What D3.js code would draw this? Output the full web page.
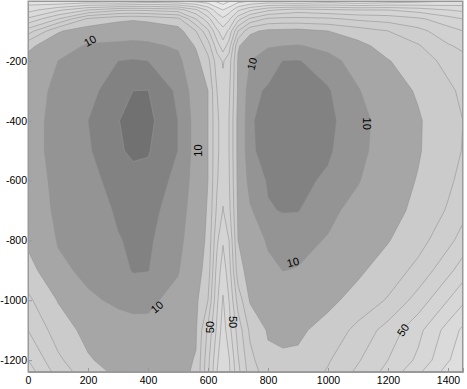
<!DOCTYPE html>
<html>
<head>
<meta charset="utf-8">
<script src="https://cdn.jsdelivr.net/npm/d3@7"></script>
<style>
  body { margin: 0; background: #fff; }
  svg { display: block; }
  text { font-family: "Liberation Sans", Arial, sans-serif; }
</style>
</head>
<body>
<svg id="chart" width="467" height="389"></svg>
<script>
// grid positions (data units) of the sampled field
const xs = [0, 100, 200, 300, 350, 400, 500, 560, 600, 630, 650, 670, 700, 740, 800, 850, 900, 1000, 1100, 1200, 1300, 1400, 1450];
const ys = [0, -30, -60, -100, -150, -200, -300, -400, -500, -600, -700, -800, -900, -1000, -1100, -1200, -1240];

// field values, one row per ys entry
const values = [
  [95, 100, 98, 102, 100, 97, 100, 103, 106, 112, 116, 111, 104, 100, 98, 100, 103, 97, 101, 97, 94, 90, 88],
  [84, 72, 60, 52, 51, 52, 55, 68, 82, 95, 100, 95, 82, 72, 62, 58, 55, 58, 60, 60, 64, 70, 72],
  [68, 50, 28, 22, 21, 22, 27, 50, 66, 82, 88, 82, 64, 48, 38, 37, 37, 38, 42, 44, 48, 56, 60],
  [45, 21, 15, 14, 13.5, 14, 16, 30, 48, 68, 76, 68, 40, 22, 18, 17.5, 17, 20, 25, 30, 37, 46, 50],
  [22, 14, 9, 8.5, 8, 8.5, 11, 21, 35, 55, 66, 55, 21, 14, 10.5, 10, 9.5, 12, 17, 24, 29, 39, 42],
  [17, 10, 7.5, 5, 4.6, 5, 8, 17, 27, 45, 51, 45, 19, 10, 6.8, 4.9, 4.7, 7.5, 13, 19.5, 25, 33, 37],
  [14, 8, 6, 3.2, 2.5, 2.45, 5.5, 13, 20, 40, 47, 42, 18.5, 6, 4.5, 4.1, 3.9, 4.5, 9.5, 15.5, 21, 28, 32],
  [13, 7.5, 5, 2.6, 1.6, 1.8, 5, 12, 20, 38, 45, 40, 17, 5.3, 4, 3.6, 3.5, 4.2, 7, 14, 19, 26, 30],
  [13, 7.5, 5.3, 2.8, 2.1, 2.3, 5, 12, 20, 38, 45, 40, 17, 5.4, 4.1, 3.7, 3.6, 4.5, 7.5, 14.5, 19.2, 26, 30.5],
  [14, 8, 6, 3.8, 3.2, 3.2, 5.8, 12.5, 20, 39, 47, 41, 17.5, 7.5, 4.6, 4.2, 4.2, 5.5, 9.5, 15.5, 20.5, 28, 33],
  [15, 8.5, 7, 4.5, 3.9, 3.8, 6.8, 13.5, 21, 42, 50.5, 43, 18.5, 10.8, 5.3, 4.8, 4.8, 8.2, 12.5, 17, 22, 31, 37],
  [18, 9.5, 8, 5.2, 4.5, 4.3, 8, 14.5, 22, 48, 59, 50, 20, 14, 9.2, 7, 8, 10.5, 15, 19.5, 26, 37, 44],
  [24, 11.5, 8.5, 7, 4.6, 4.8, 9.5, 16, 24, 54, 65, 55, 24, 16, 11.5, 9.9, 10.3, 14, 18.5, 24, 33, 47, 55],
  [32, 19.5, 11, 9, 8.5, 8.8, 12, 18, 30, 58, 71, 60, 36, 19, 16, 14.5, 14, 18, 23, 31, 44, 60, 68],
  [40, 25, 17, 12.5, 11.8, 11.5, 16.5, 19, 42, 62, 75, 64, 46, 28, 19, 18.5, 18.5, 23, 33, 44, 57, 74, 82],
  [50, 32, 21, 16, 15, 14, 17.5, 20.5, 47, 68, 79, 71, 51, 33, 22, 21, 21.5, 29, 39, 50, 62, 79, 86],
  [55, 36, 24, 18, 16.5, 15.5, 18, 21, 48, 70, 80, 72, 53, 35, 25, 23.5, 23, 31, 42, 53, 68, 84, 90]
];

// contour levels and the grey of each band (first = below the lowest level)
const levels = [2.5, 5, 10, 20, 30, 40, 50, 60, 70, 80, 90, 100, 110];
const bandColors = ['#717171', '#828282', '#949494', '#a6a6a6', '#cbcbcb', '#cecece', '#d1d1d1',
  '#d4d4d4', '#d7d7d7', '#dadada', '#dedede', '#e3e3e3', '#e9e9e9', '#f0f0f0'];

const xTicks = [0, 200, 400, 600, 800, 1000, 1200, 1400];
const yTicks = [-200, -400, -600, -800, -1000, -1200];

// inline contour labels
const labelText = ['10', '10', '10', '10', '10', '10', '50', '50', '50'];
const labelX = [207, 747, 567, 430, 1130, 883, 607, 683, 1250];
const labelY = [-133, -210, -500, -1023, -410, -873, -1090, -1073, -1100];
const labelAngle = [-30, -75, -90, -40, 90, -15, -90, 90, -55];

const svg = d3.select('#chart');

const x = d3.scaleLinear().domain([0, 1450]).range([28, 463]);
const y = d3.scaleLinear().domain([0, -1240]).range([1, 372]);

// grid index -> data coordinate (piecewise linear over the sample positions)
const n = xs.length, m = ys.length;
const gx = d3.scaleLinear().domain(d3.range(n)).range(xs).clamp(true);
const gy = d3.scaleLinear().domain(d3.range(m)).range(ys).clamp(true);

const project = d3.geoTransform({
  point: function(px, py) {
    this.stream.point(x(gx(px - 0.5)), y(gy(py - 0.5)));
  }
});
const path = d3.geoPath(project);

const contours = d3.contours()
  .size([n, m])
  .thresholds(levels)(values.flat());

svg.append('clipPath')
  .attr('id', 'plot-clip')
  .append('rect')
  .attr('x', x(0)).attr('y', y(0))
  .attr('width', x(1450) - x(0)).attr('height', y(-1240) - y(0));

const plot = svg.append('g').attr('clip-path', 'url(#plot-clip)');

// lowest band as background, then each band painted on top
plot.append('rect')
  .attr('x', x(0)).attr('y', y(0))
  .attr('width', x(1450) - x(0)).attr('height', y(-1240) - y(0))
  .style('fill', bandColors[0]);

plot.append('g')
  .selectAll('path')
  .data(contours)
  .enter().append('path')
  .attr('d', path)
  .style('fill', (d, i) => bandColors[i + 1])
  .style('stroke', 'none');

// contour lines
plot.append('g')
  .selectAll('path')
  .data(contours)
  .enter().append('path')
  .attr('d', path)
  .style('fill', 'none')
  .style('stroke', '#939393')
  .style('stroke-width', 0.6);

// labels
plot.append('g')
  .selectAll('text')
  .data(labelText)
  .enter().append('text')
  .attr('transform', (d, i) => `translate(${x(labelX[i])},${y(labelY[i])}) rotate(${labelAngle[i]})`)
  .attr('text-anchor', 'middle')
  .attr('dy', '0.35em')
  .style('font-size', '11px')
  .style('fill', '#000')
  .text(d => d);

// axes
const xAxis = svg.append('g')
  .attr('transform', `translate(0,${y(-1240)})`)
  .call(d3.axisBottom(x).tickValues(xTicks).tickSize(-4).tickPadding(5).tickFormat(d => String(d)));

const yAxis = svg.append('g')
  .attr('transform', `translate(${x(0)},0)`)
  .call(d3.axisLeft(y).tickValues(yTicks).tickSize(-4).tickPadding(1).tickFormat(d => String(d)));

[xAxis, yAxis].forEach(a => {
  a.select('.domain').style('stroke', '#9a9a9a');
  a.selectAll('.tick line').style('stroke', '#9a9a9a');
  a.selectAll('.tick text')
    .style('font-family', '"Liberation Sans", Arial, sans-serif')
    .style('font-size', '10.5px')
    .style('fill', '#000');
});

// frame
svg.append('rect')
  .attr('x', x(0)).attr('y', y(0))
  .attr('width', x(1450) - x(0)).attr('height', y(-1240) - y(0))
  .style('fill', 'none')
  .style('stroke', '#9a9a9a')
  .style('stroke-width', 1);
</script>
</body>
</html>
